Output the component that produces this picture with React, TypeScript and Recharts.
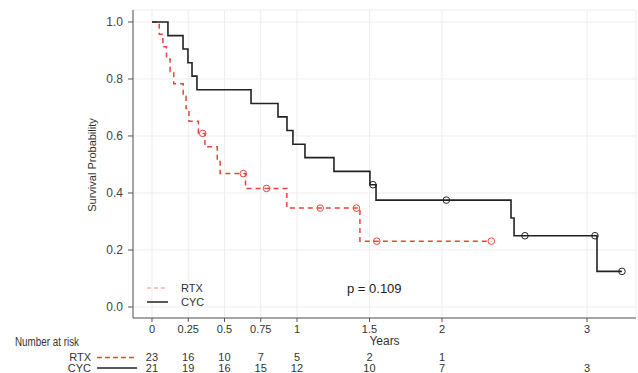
import React from 'react';
import {
  CartesianGrid,
  ComposedChart,
  Line,
  Scatter,
  XAxis,
  YAxis,
} from 'recharts';

// Kaplan-Meier steps (years, survival)
const rtxTimes = [0, 0.05, 0.075, 0.1, 0.125, 0.15, 0.215, 0.235, 0.255, 0.32, 0.365, 0.45, 0.47, 0.645, 0.93, 1.434, 2.34];
const rtxSurv = [1, 0.957, 0.913, 0.87, 0.826, 0.783, 0.739, 0.696, 0.652, 0.609, 0.562, 0.515, 0.468, 0.416, 0.347, 0.231, 0.231];
const rtxCensorTimes = [0.35, 0.63, 0.79, 1.16, 1.41, 1.55, 2.34];
const rtxCensorSurv = [0.609, 0.468, 0.416, 0.347, 0.347, 0.231, 0.231];

const cycTimes = [0, 0.11, 0.214, 0.248, 0.276, 0.31, 0.683, 0.869, 0.931, 0.972, 1.055, 1.255, 1.503, 1.545, 2.476, 2.497, 3.069, 3.241];
const cycSurv = [1, 0.952, 0.905, 0.857, 0.81, 0.762, 0.714, 0.667, 0.619, 0.571, 0.524, 0.476, 0.429, 0.375, 0.3125, 0.25, 0.125, 0.125];
const cycCensorTimes = [1.524, 2.03, 2.572, 3.055, 3.241];
const cycCensorSurv = [0.429, 0.375, 0.25, 0.25, 0.125];

const xTicks = [0, 0.25, 0.5, 0.75, 1, 1.5, 2, 3];
const xTickLabels = ['0', '0.25', '0.5', '0.75', '1', '1.5', '2', '3'];
const yTicks = [0, 0.2, 0.4, 0.6, 0.8, 1];
const rtxAtRisk = [23, 16, 10, 7, 5, 2, 1, null];
const cycAtRisk = [21, 19, 16, 15, 12, 10, 7, 3];

const RED = '#e5453a';
const BLACK = '#222222';
const FONT = "'Liberation Sans', Arial, sans-serif";

const toPoints = (ts: number[], ss: number[]) => ts.map((t, i) => ({ t, s: ss[i] }));
const rtxData = toPoints(rtxTimes, rtxSurv);
const cycData = toPoints(cycTimes, cycSurv);
const rtxCensor = toPoints(rtxCensorTimes, rtxCensorSurv);
const cycCensor = toPoints(cycCensorTimes, cycCensorSurv);

const censorShape = (color: string) => (props: any) => (
  <circle cx={props.cx} cy={props.cy} r={3.3} fill="none" stroke={color} strokeWidth={1} />
);

// tick label plus the number-at-risk rows underneath
const RiskTick = (props: any) => {
  const { x, y, payload } = props;
  const i = xTicks.indexOf(payload.value);
  return (
    <g fontFamily={FONT} fontSize={11} fill="#333">
      <text x={x} y={y + 9} textAnchor="middle">
        {xTickLabels[i]}
      </text>
      {rtxAtRisk[i] != null && (
        <text x={x} y={y + 37} textAnchor="middle">
          {rtxAtRisk[i]}
        </text>
      )}
      <text x={x} y={y + 48} textAnchor="middle">
        {cycAtRisk[i]}
      </text>
    </g>
  );
};

export default function App() {
  return (
    <div style={{ position: 'fixed', left: 0, top: 0, width: 638, height: 373, background: '#fff' }}>
      <ComposedChart width={638} height={373} margin={{ top: 10, right: 2, left: 0, bottom: 0 }}>
        <CartesianGrid stroke="#ededed" />
        <XAxis
          dataKey="t"
          type="number"
          domain={[-0.131, 3.338]}
          allowDataOverflow
          ticks={xTicks}
          interval={0}
          height={55}
          tickSize={4}
          stroke="#555"
          tick={<RiskTick />}
          label={{ value: 'Years', position: 'insideBottom', offset: 28, fontSize: 12, fill: '#333', fontFamily: FONT }}
        />
        <YAxis
          type="number"
          domain={[-0.0386, 1.042]}
          allowDataOverflow
          ticks={yTicks}
          width={133}
          tickSize={5}
          tickMargin={5}
          stroke="#555"
          tickFormatter={(v: number) => v.toFixed(1)}
          tick={{ fontSize: 12, fill: '#444', fontFamily: FONT }}
        />
        <Line
          data={rtxData}
          dataKey="s"
          type="stepAfter"
          stroke={RED}
          strokeWidth={1.5}
          strokeDasharray="5 4"
          dot={false}
          activeDot={false}
          isAnimationActive={false}
        />
        <Line
          data={cycData}
          dataKey="s"
          type="stepAfter"
          stroke={BLACK}
          strokeWidth={1.6}
          dot={false}
          activeDot={false}
          isAnimationActive={false}
        />
        <Scatter data={rtxCensor} dataKey="s" shape={censorShape(RED)} isAnimationActive={false} />
        <Scatter data={cycCensor} dataKey="s" shape={censorShape(BLACK)} isAnimationActive={false} />
      </ComposedChart>
      <svg
        width={638}
        height={373}
        style={{ position: 'absolute', left: 0, top: 0, pointerEvents: 'none' }}
      >
        <text
          x={93}
          y={165}
          transform="rotate(-90 93 165)"
          textAnchor="middle"
          dominantBaseline="middle"
          fontSize={11}
          fill="#333"
          fontFamily={FONT}
        >
          Survival Probability
        </text>
        {/* legend */}
        <line x1={147} x2={168} y1={288} y2={288} stroke={RED} strokeWidth={1.2} strokeDasharray="4 3" opacity={0.6} />
        <text x={181} y={292} fontSize={11} fill="#333" fontFamily={FONT}>RTX</text>
        <line x1={147} x2={168} y1={302} y2={302} stroke={BLACK} strokeWidth={1.5} />
        <text x={181} y={306} fontSize={11} fill="#333" fontFamily={FONT}>CYC</text>
        <text x={347} y={293} fontSize={13} fill="#222" fontFamily={FONT}>p = 0.109</text>
        {/* risk table labels */}
        <text x={15} y={346} fontSize={12.5} fill="#333" fontFamily={FONT} textLength={64} lengthAdjust="spacingAndGlyphs">
          Number at risk
        </text>
        <text x={91} y={361} textAnchor="end" fontSize={11} fill="#333" fontFamily={FONT}>RTX</text>
        <line x1={97} x2={137} y1={357.5} y2={357.5} stroke={RED} strokeWidth={1.5} strokeDasharray="5 3" />
        <text x={91} y={372} textAnchor="end" fontSize={11} fill="#333" fontFamily={FONT}>CYC</text>
        <line x1={97} x2={137} y1={368} y2={368} stroke={BLACK} strokeWidth={1.5} />
      </svg>
    </div>
  );
}
